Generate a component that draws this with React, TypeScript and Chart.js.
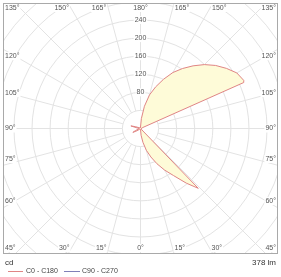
import React, { useEffect, useRef } from "react";
import { Chart, registerables } from "chart.js";

Chart.register(...registerables);

// ---- Data (gamma angle in degrees, luminous intensity in cd) ----
// C0 half-plane (right side of the diagram)
const gammaC0 = [0, 5, 10, 15, 20, 25, 30, 35, 40, 44, 45, 50, 60, 70, 80, 90, 100, 110, 113, 114, 115, 120, 125, 130, 135, 140, 145, 150, 155, 160, 165, 170, 175, 180];
const cdC0 = [2, 15, 31, 50, 67, 86, 106, 127, 158, 184, 4, 3, 2, 2, 2, 3, 3, 3, 4, 250, 252, 246, 232, 217, 200, 181, 162, 143, 120, 98, 77, 50, 22, 3];
// C180 half-plane (left side of the diagram)
const gammaC180 = [0, 30, 50, 58, 63, 68, 75, 90, 100, 105, 110, 120, 150, 180];
const cdC180 = [2, 2, 3, 10, 19, 12, 4, 3, 8, 22, 12, 3, 2, 3];
// C90 - C270 (not visible in the reference)
const gammaC90: number[] = [];
const cdC90: number[] = [];

const ringValues = [40, 80, 120, 160, 200, 240, 280, 320, 360, 400];
const ringLabels = [80, 120, 160, 200, 240];
const topAngles = [135, 150, 165, 180, 165, 150, 135];
const bottomAngles = [45, 30, 15, 0, 15, 30, 45];
const sideAngles = [120, 105, 90, 75, 60];
const sideLabelY = [56, 93, 128.5, 159, 201];
const seriesNames = ["C0 - C180", "C90 - C270"];
const fluxLabel = "378 lm";
const unitLabel = "cd";

const X_EXT = 304.2;
const Y_EXT = 277.7;

const rad = (d: number) => (d * Math.PI) / 180;

function buildCurve(gR: number[], vR: number[], gL: number[], vL: number[]) {
  const right = gR.map((g, i) => ({ x: vR[i] * Math.sin(rad(g)), y: -vR[i] * Math.cos(rad(g)) }));
  const left: { x: number; y: number }[] = [];
  for (let i = gL.length - 1; i >= 0; i--) {
    left.push({ x: -vL[i] * Math.sin(rad(gL[i])), y: -vL[i] * Math.cos(rad(gL[i])) });
  }
  return right.concat(left);
}

const FONT = "'Liberation Sans', Arial, sans-serif";

const polarPlugin = {
  id: "polarGrid",
  beforeDatasetsDraw(chart: any) {
    const { ctx, chartArea: a, scales } = chart;
    const x = scales.x, y = scales.y;
    const cx = x.getPixelForValue(0);
    const cy = y.getPixelForValue(0);
    const k = (x.getPixelForValue(100) - cx) / 100;
    ctx.save();
    ctx.fillStyle = "#ffffff";
    ctx.fillRect(a.left, a.top, a.right - a.left, a.bottom - a.top);
    ctx.beginPath();
    ctx.rect(a.left, a.top, a.right - a.left, a.bottom - a.top);
    ctx.clip();
    ctx.strokeStyle = "#e3e3e3";
    ctx.lineWidth = 1;
    for (const r of ringValues) {
      ctx.beginPath();
      ctx.arc(cx, cy, r * k, 0, Math.PI * 2);
      ctx.stroke();
    }
    const r0 = ringValues[0] * k;
    for (let g = 0; g < 360; g += 15) {
      const dx = Math.sin(rad(g)), dy = Math.cos(rad(g));
      ctx.beginPath();
      ctx.moveTo(cx + dx * r0, cy + dy * r0);
      ctx.lineTo(cx + dx * 400, cy + dy * 400);
      ctx.stroke();
    }
    ctx.restore();
  },
  afterDatasetsDraw(chart: any) {
    const { ctx, chartArea: a, scales } = chart;
    const x = scales.x, y = scales.y;
    const cx = x.getPixelForValue(0);
    const cy = y.getPixelForValue(0);
    const k = (x.getPixelForValue(100) - cx) / 100;
    ctx.save();
    ctx.font = `7px ${FONT}`;
    ctx.textBaseline = "middle";

    const label = (t: string, px: number, py: number, align: CanvasTextAlign) => {
      ctx.textAlign = align;
      const w = ctx.measureText(t).width;
      let lx = px;
      if (align === "center") lx = px - w / 2;
      else if (align === "right") lx = px - w;
      ctx.fillStyle = "#ffffff";
      ctx.fillRect(lx - 1, py - 4, w + 2, 8);
      ctx.fillStyle = "#555555";
      ctx.fillText(t, px, py);
    };

    // radial value labels
    for (const v of ringLabels) {
      label(String(v), cx, cy - v * k, "center");
    }
    // top and bottom angle labels
    const topY = a.top + 5;
    const botY = a.bottom - 6;
    const n = topAngles.length;
    for (let i = 0; i < n; i++) {
      const half = (n - 1) / 2;
      const side = i < half ? -1 : i > half ? 1 : 0;
      const phiTop = 180 - topAngles[i];
      const phiBot = bottomAngles[i];
      if (i === 0) {
        label(`${topAngles[i]}°`, a.left + 2, topY, "left");
        label(`${bottomAngles[i]}°`, a.left + 2, botY, "left");
      } else if (i === n - 1) {
        label(`${topAngles[i]}°`, a.right - 2, topY, "right");
        label(`${bottomAngles[i]}°`, a.right - 2, botY, "right");
      } else if (side === 0) {
        label(`${topAngles[i]}°`, cx, topY, "center");
        label(`${bottomAngles[i]}°`, cx, botY, "center");
      } else {
        const xt = cx + side * (cy - topY) * Math.tan(rad(phiTop));
        const xb = cx + side * (botY - cy) * Math.tan(rad(phiBot));
        const al: CanvasTextAlign = side < 0 ? "right" : "left";
        label(`${topAngles[i]}°`, xt + side * 2, topY, al);
        label(`${bottomAngles[i]}°`, xb + side * 2, botY, al);
      }
    }
    // side angle labels
    sideAngles.forEach((g, i) => {
      label(`${g}°`, a.left + 2, sideLabelY[i], "left");
      label(`${g}°`, a.right - 2, sideLabelY[i], "right");
    });

    // frame
    ctx.strokeStyle = "#a9a9a9";
    ctx.lineWidth = 1;
    ctx.strokeRect(a.left + 0.5, a.top + 0.5, a.right - a.left - 1, a.bottom - a.top - 1);
    ctx.restore();
  },
  afterDraw(chart: any) {
    const { ctx, chartArea: a } = chart;
    ctx.save();
    ctx.textBaseline = "middle";
    ctx.fillStyle = "#333333";
    ctx.font = `8px ${FONT}`;
    ctx.textAlign = "left";
    ctx.fillText(unitLabel, a.left + 2, a.bottom + 9);
    ctx.textAlign = "right";
    ctx.fillText(fluxLabel, a.right - 2, a.bottom + 9);

    const ly = a.bottom + 17.5;
    const ds = chart.data.datasets;
    ctx.font = `7px ${FONT}`;
    ctx.textAlign = "left";
    const items = [
      { x0: a.left + 5, x1: a.left + 20, tx: a.left + 23 },
      { x0: a.left + 61, x1: a.left + 77, tx: a.left + 79 },
    ];
    items.forEach((it, i) => {
      ctx.strokeStyle = ds[i].borderColor;
      ctx.lineWidth = 1;
      ctx.beginPath();
      ctx.moveTo(it.x0, ly);
      ctx.lineTo(it.x1, ly);
      ctx.stroke();
      ctx.fillStyle = "#444444";
      ctx.fillText(seriesNames[i], it.tx, ly);
    });
    ctx.restore();
  },
};

export default function App() {
  const ref = useRef<HTMLCanvasElement | null>(null);
  useEffect(() => {
    document.body.style.margin = "0";
    const canvas = ref.current;
    if (!canvas) return;
    const chart = new Chart(canvas, {
      type: "scatter",
      data: {
        datasets: [
          {
            label: seriesNames[0],
            data: buildCurve(gammaC0, cdC0, gammaC180, cdC180),
            showLine: true,
            borderColor: "#e08585",
            backgroundColor: "#fefbd8",
            borderWidth: 1,
            pointRadius: 0,
            fill: "shape",
            tension: 0,
          } as any,
          {
            label: seriesNames[1],
            data: buildCurve(gammaC90, cdC90, [], []),
            showLine: true,
            borderColor: "#8080b8",
            backgroundColor: "rgba(0,0,0,0)",
            borderWidth: 1,
            pointRadius: 0,
            fill: false,
          } as any,
        ],
      },
      options: {
        animation: false,
        responsive: false,
        maintainAspectRatio: false,
        devicePixelRatio: 1,
        layout: { padding: { left: 3, right: 3, top: 3, bottom: 23 } },
        plugins: { legend: { display: false }, tooltip: { enabled: false } },
        scales: {
          x: { type: "linear", display: false, min: -X_EXT, max: X_EXT },
          y: { type: "linear", display: false, min: -Y_EXT, max: Y_EXT },
        },
      },
      plugins: [polarPlugin],
    });
    return () => chart.destroy();
  }, []);
  return (
    <canvas ref={ref} width={281} height={277} style={{ display: "block", width: 281, height: 277 }} />
  );
}
